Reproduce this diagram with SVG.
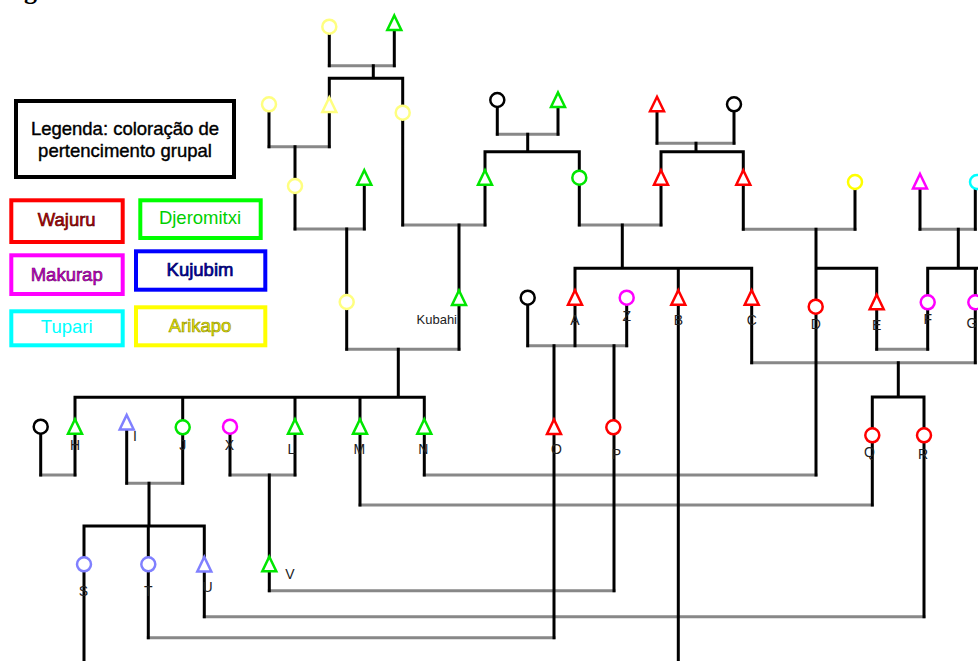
<svg xmlns="http://www.w3.org/2000/svg" width="978" height="661" viewBox="0 0 978 661">
<style>
.k{stroke:#000;stroke-width:3;fill:none;stroke-linecap:square}
.g{stroke:#888;stroke-width:3;fill:none;stroke-linecap:square}
.n{fill:#fff;stroke-width:2.5;stroke-linejoin:miter}
.lbl{font-family:"Liberation Sans",Arial,sans-serif;font-size:14px;fill:#222;text-anchor:middle}
.lg{font-family:"Liberation Sans",Arial,sans-serif;font-size:18.5px;text-anchor:middle}
.box{fill:#fff;stroke-width:4}
.red{stroke:#ff0000}.grn{stroke:#00e600}.mag{stroke:#ff00ff}.cya{stroke:#00ffff}.yel{stroke:#ffff00}.pyl{stroke:#ffff80}.blu{stroke:#8080ff}.blk{stroke:#000}
</style>
<defs><path id="tri" d="M0,-7.5 L7,7 L-7,7 Z"/></defs>
<rect width="978" height="661" fill="#fff"/>
<text x="24" y="-1.5" font-family="'Liberation Serif',serif" font-size="26" font-weight="bold" fill="#000">g</text>

<g id="legend">
<g id="legend-title"><rect class="box blk" x="16" y="101" width="218" height="76"/>
<text class="lg" x="125" y="135" fill="#000" stroke="#000" stroke-width="0.4">Legenda: coloração de</text>
<text class="lg" x="125" y="157" fill="#000" stroke="#000" stroke-width="0.4">pertencimento grupal</text></g>
<g id="legend-wajuru"><rect class="box red" x="11.3" y="200.3" width="111.4" height="41.7"/>
<text class="lg" x="66.7" y="226" fill="#c00000" stroke="#500000" stroke-width="0.6">Wajuru</text></g>
<g id="legend-djeromitxi"><rect class="box grn" x="140.3" y="200.3" width="120.4" height="37.7" style="stroke:#00ff00"/>
<text class="lg" x="200" y="224.3" fill="#00d000">Djeromitxi</text></g>
<g id="legend-makurap"><rect class="box mag" x="11.3" y="255.3" width="111.4" height="38.7"/>
<text class="lg" x="66.7" y="280.7" fill="#dd00dd" stroke="#600060" stroke-width="0.6">Makurap</text></g>
<g id="legend-kujubim"><rect class="box" x="136" y="251.3" width="129.3" height="38.4" stroke="#0000ff"/>
<text class="lg" x="200" y="276" fill="#0000b0" stroke="#000060" stroke-width="0.7">Kujubim</text></g>
<g id="legend-tupari"><rect class="box cya" x="11.3" y="311.3" width="111.4" height="34"/>
<text class="lg" x="66.7" y="333.3" fill="#00ffff">Tupari</text></g>
<g id="legend-arikapo"><rect class="box yel" x="136" y="307.3" width="129.3" height="38"/>
<text class="lg" x="200" y="331.7" fill="#eeee00" stroke="#8a8a00" stroke-width="0.6">Arikapo</text></g>
</g>

<g id="connectors">
<path class="g" d="M329.3,65.7H394.3 M269,146.7H329.3 M295,229H364.3 M402.7,225H485 M497.3,134.3H558 M657,143.3H734 M579.3,225H661 M743.3,229.3H855 M920,229.3H975.3 M346.7,349.3H459 M527.7,345.7H626.7 M876.7,349.3H927.7 M751.7,362.7H975.3 M40.7,475H75 M126.7,483.3H182.7 M230,475H295 M424.3,475H816 M360,505H872.3 M269.3,590.7H614 M204.3,616.7H924 M148.3,637.7H554"/>
<path class="k" d="M329.3,26.7V65.7 M394.3,22.5V65.7 M373.3,65.7V78.3 M329.3,78.3H402.7 M329.3,78.3V146.7 M402.7,78.3V225 M269,104.3V146.7 M295,146.7V229 M364.3,177V229 M346.7,229V349.3 M459,225V349.3 M497.3,100V134.3 M558,99.5V134.3 M527.7,134.3V151.7 M485,151.7H579.3 M485,151.7V225 M579.3,151.7V225 M657,104V143.3 M734,104.3V143.3 M696,143.3V151.7 M661,151.7H743.3 M661,151.7V225 M743.3,151.7V229.3 M855,182V229.3 M622.3,225V268.3 M575,268.3H751.7 M575,268.3V345.7 M678.3,268.3V661 M751.7,268.3V362.7 M816,229.3V268.3 M816,268.3H876.7 M816,268.3V475 M876.7,268.3V349.3 M920,181V229.3 M975.3,182V229.3 M958.3,229.3V268.3 M927.7,268.3H980 M927.7,268.3V349.3 M975.3,268.3V362.7 M398.3,349.3V397.3 M75,397.3H424.3 M75,397.3V475 M182.7,397.3V483.3 M295,397.3V475 M360,397.3V505 M424.3,397.3V475 M527.7,297.7V345.7 M626.7,297.7V345.7 M554,345.7V637.7 M614,345.7V590.7 M898.3,362.7V397 M872.3,397H924 M872.3,397V505 M924,397V616.7 M40.7,426.7V475 M126.7,422V483.3 M149,483.3V526 M84,526H204.3 M84,526V661 M148.3,526V637.7 M204.3,526V616.7 M230,426.7V475 M269.3,475V590.7"/>
</g>

<g id="nodes">
<g id="n1"><circle class="n pyl" cx="329.3" cy="26.7" r="7"/></g>
<g id="n2"><use href="#tri" class="n grn" x="394.3" y="23"/></g>
<g id="n3"><circle class="n pyl" cx="269" cy="104.3" r="7"/></g>
<g id="n4"><use href="#tri" class="n pyl" x="329.3" y="105"/></g>
<g id="n5"><circle class="n pyl" cx="402.7" cy="112.7" r="7"/></g>
<g id="n6"><circle class="n blk" cx="497.3" cy="100" r="7"/></g>
<g id="n7"><use href="#tri" class="n grn" x="558" y="100"/></g>
<g id="n8"><use href="#tri" class="n red" x="657" y="104.3"/></g>
<g id="n9"><circle class="n blk" cx="734" cy="104.3" r="7"/></g>
<g id="n10"><circle class="n pyl" cx="295" cy="186" r="7"/></g>
<g id="n11"><use href="#tri" class="n grn" x="364.3" y="177.7"/></g>
<g id="n12"><use href="#tri" class="n grn" x="485" y="177.7"/></g>
<g id="n13"><circle class="n grn" cx="579.3" cy="177.7" r="7"/></g>
<g id="n14"><use href="#tri" class="n red" x="661" y="177.7"/></g>
<g id="n15"><use href="#tri" class="n red" x="743.3" y="177.7"/></g>
<g id="n16"><circle class="n yel" cx="855" cy="182" r="7"/></g>
<g id="n17"><use href="#tri" class="n mag" x="920" y="181.5"/></g>
<g id="n18"><circle class="n cya" cx="977" cy="182" r="7"/></g>
<g id="n19"><circle class="n pyl" cx="346.7" cy="302" r="7"/></g>
<g id="kubahi"><use href="#tri" class="n grn" x="459" y="298"/><text class="lbl" x="457" y="324" style="text-anchor:end;font-size:13px">Kubahi</text></g>
<g id="n21"><circle class="n blk" cx="527.7" cy="297.7" r="7"/></g>
<g id="A"><use href="#tri" class="n red" x="575" y="297.7"/><text class="lbl" x="575" y="325">A</text></g>
<g id="Z"><circle class="n mag" cx="626.7" cy="297.7" r="7"/><text class="lbl" x="626.7" y="321">Z</text></g>
<g id="B"><use href="#tri" class="n red" x="678.3" y="297.7"/><text class="lbl" x="678.3" y="325">B</text></g>
<g id="C"><use href="#tri" class="n red" x="751.7" y="297.7"/><text class="lbl" x="751.7" y="325">C</text></g>
<g id="D"><circle class="n red" cx="815.7" cy="306.7" r="7"/><text class="lbl" x="815.7" y="329">D</text></g>
<g id="E"><use href="#tri" class="n red" x="876.7" y="302.2"/><text class="lbl" x="876.7" y="330">E</text></g>
<g id="F"><circle class="n mag" cx="927.7" cy="302.3" r="7"/><text class="lbl" x="927.7" y="324">F</text></g>
<g id="G"><circle class="n mag" cx="975.3" cy="302.3" r="7"/><text class="lbl" x="972" y="328">G</text></g>
<g id="n30"><circle class="n blk" cx="40.7" cy="426.7" r="7"/></g>
<g id="H"><use href="#tri" class="n grn" x="75" y="426.7"/><text class="lbl" x="75" y="450">H</text></g>
<g id="I"><use href="#tri" class="n blu" x="126.7" y="422.5"/><text class="lbl" x="135" y="441">I</text></g>
<g id="J"><circle class="n grn" cx="182.7" cy="427.3" r="7"/><text class="lbl" x="182.7" y="450">J</text></g>
<g id="X"><circle class="n mag" cx="230" cy="426.7" r="7"/><text class="lbl" x="229.3" y="450">X</text></g>
<g id="L"><use href="#tri" class="n grn" x="295" y="426.7"/><text class="lbl" x="291.5" y="454">L</text></g>
<g id="M"><use href="#tri" class="n grn" x="360" y="426.7"/><text class="lbl" x="359.3" y="454">M</text></g>
<g id="N"><use href="#tri" class="n grn" x="424.3" y="426.7"/><text class="lbl" x="423.3" y="454">N</text></g>
<g id="O"><use href="#tri" class="n red" x="554" y="427"/><text class="lbl" x="556.5" y="454">O</text></g>
<g id="P"><circle class="n red" cx="613.3" cy="427.3" r="7"/><text class="lbl" x="616.5" y="459">P</text></g>
<g id="Q"><circle class="n red" cx="872.3" cy="435.3" r="7"/><text class="lbl" x="869.5" y="457">Q</text></g>
<g id="R"><circle class="n red" cx="924" cy="435.3" r="7"/><text class="lbl" x="923" y="459">R</text></g>
<g id="S"><circle class="n blu" cx="84" cy="564.3" r="7"/><text class="lbl" x="83.5" y="596">S</text></g>
<g id="T"><circle class="n blu" cx="148.3" cy="564.3" r="7"/><text class="lbl" x="148.3" y="596">T</text></g>
<g id="U"><use href="#tri" class="n blu" x="204.3" y="564.5"/><text class="lbl" x="207.5" y="592">U</text></g>
<g id="V"><use href="#tri" class="n grn" x="269.3" y="564.2"/><text class="lbl" x="290" y="579">V</text></g>
</g>
</svg>
